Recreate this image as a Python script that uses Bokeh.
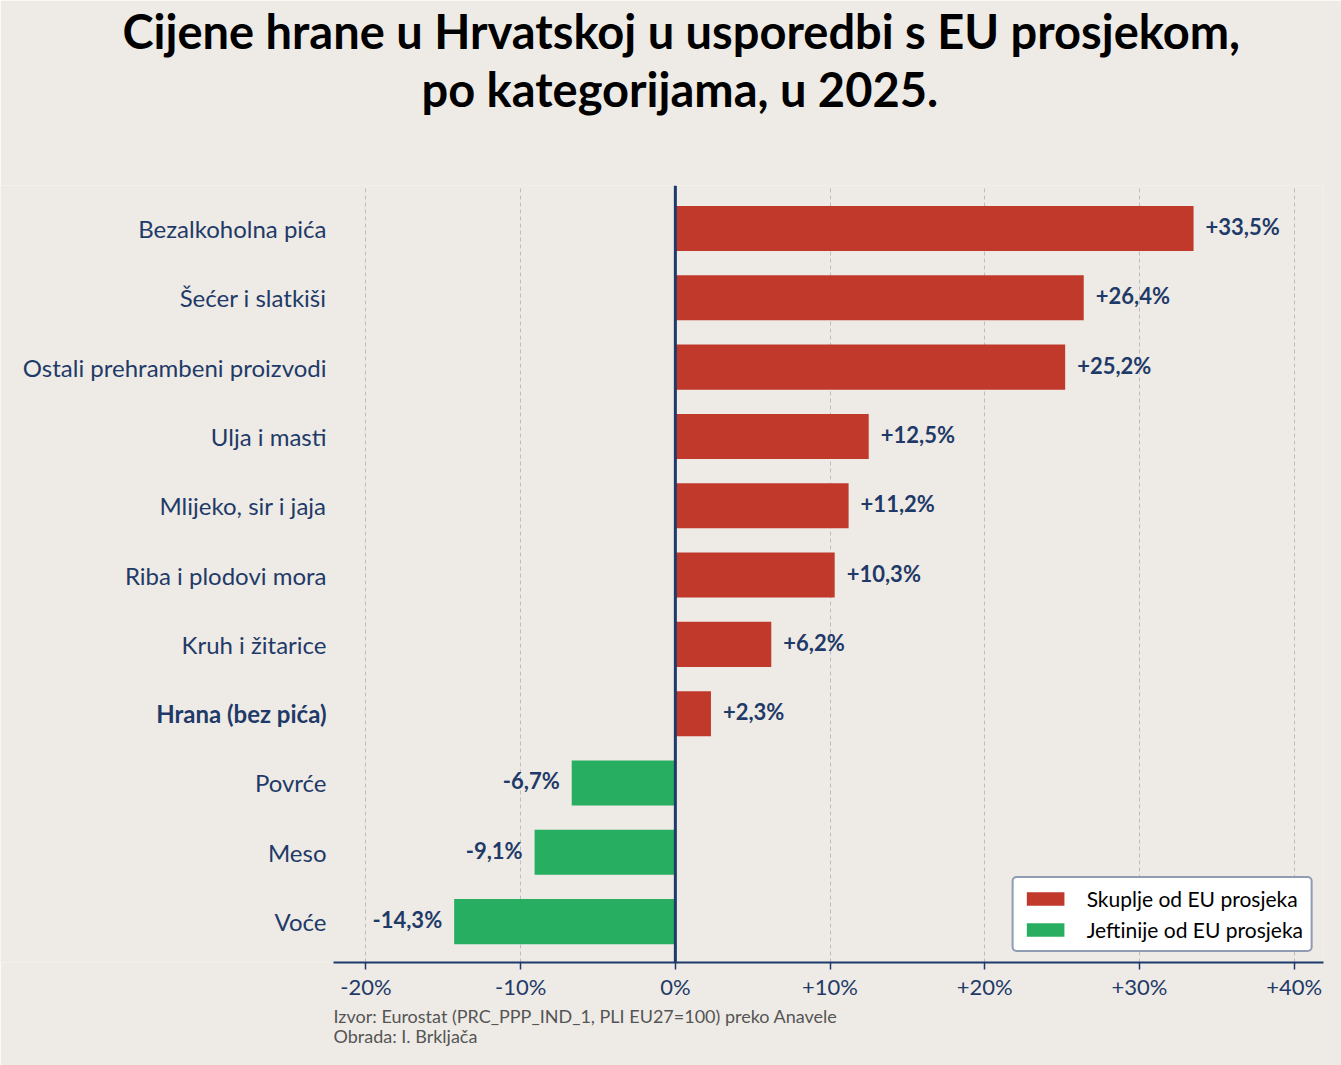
from bokeh.plotting import figure
from bokeh.models import Range1d, FixedTicker, Label, Legend, LegendItem, Span, Title, ColumnDataSource
from bokeh.core.properties import value
from bokeh.embed import file_html
from bokeh.resources import INLINE

categories = ["Voće", "Meso", "Povrće", "Hrana (bez pića)", "Kruh i žitarice",
              "Riba i plodovi mora", "Mlijeko, sir i jaja", "Ulja i masti",
              "Ostali prehrambeni proizvodi", "Šećer i slatkiši", "Bezalkoholna pića"]
values = [-14.3, -9.1, -6.7, 2.3, 6.2, 10.3, 11.2, 12.5, 25.2, 26.4, 33.5]
xticks = [-20, -10, 0, 10, 20, 30, 40]
xtick_labels = ["-20%", "-10%", "0%", "+10%", "+20%", "+30%", "+40%"]
bold_category = "Hrana (bez pića)"
title_lines = ["Cijene hrane u Hrvatskoj u usporedbi s EU prosjekom,", "po kategorijama, u 2025."]
source_lines = ["Izvor: Eurostat (PRC_PPP_IND_1, PLI EU27=100) preko Anavele", "Obrada: I. Brkljača"]
legend_labels = ["Skuplje od EU prosjeka", "Jeftinije od EU prosjeka"]

BG = "#EEEBE6"
NAVY = "#1F3A68"
RED = "#C0392B"
GREEN = "#27AE60"
FONT = "Lato"

W, H = 1341, 1065
AX0, X1 = -22.1, 41.9          # visible axis extent
Y0, Y1 = -0.59, 10.62
AXIS_LEFT_PX, AXIS_W = 333, 990
MT, FH = 185, 777
PXX = AXIS_W / (X1 - AX0)
XL = AX0 - AXIS_LEFT_PX / PXX   # frame extends to the left canvas edge (room for category labels)
FW = AXIS_LEFT_PX + AXIS_W

p = figure(frame_width=FW, frame_height=FH, output_backend="svg", toolbar_location=None,
           x_range=Range1d(XL, X1), y_range=Range1d(Y0, Y1), y_axis_location=None,
           title=title_lines[0],
           min_border_left=0, min_border_right=W - FW, min_border_top=MT,
           min_border_bottom=H - MT - FH,
           background_fill_color=BG, border_fill_color=BG, outline_line_color=None)

p.title.align = "left"
p.title.offset = 122
p.title.text_font = FONT
p.title.text_font_style = "bold"
p.title.text_font_size = "47px"
p.title.text_color = "black"
p.title.standoff = 0

spacer = Title(text=" ", text_font_size="1px", standoff=66)
p.add_layout(spacer, "above")
t2 = Title(text=title_lines[1], align="left", offset=421, text_font=FONT, text_font_style="bold",
           text_font_size="47px", text_color="black", standoff=0)
p.add_layout(t2, "above")

ys = list(range(len(categories)))
rp = p.hbar(y=[y for y, v in zip(ys, values) if v > 0], left=0,
            right=[v for v in values if v > 0], height=0.65, color=RED, line_color=None)
rn = p.hbar(y=[y for y, v in zip(ys, values) if v < 0], left=0,
            right=[v for v in values if v < 0], height=0.65, color=GREEN, line_color=None)

p.add_layout(Span(location=0, dimension="height", line_color=NAVY, line_width=3))

for y, v in zip(ys, values):
    txt = ("+" if v > 0 else "") + f"{v:.1f}".replace(".", ",") + "%"
    p.add_layout(Label(x=v, y=y, text=txt, x_offset=12 if v > 0 else -12, y_offset=2,
                       text_align="left" if v > 0 else "right",
                       text_baseline="middle", text_font=FONT, text_font_style="bold",
                       text_font_size="22px", text_color=NAVY))

# category labels (drawn as text, one of them bold)
norm = ColumnDataSource(dict(x=[AX0] * sum(c != bold_category for c in categories),
                             y=[y for y, c in zip(ys, categories) if c != bold_category],
                             t=[c for c in categories if c != bold_category]))
bold = ColumnDataSource(dict(x=[AX0], y=[y for y, c in zip(ys, categories) if c == bold_category],
                             t=[bold_category]))
p.text(x="x", y="y", text="t", source=norm, x_offset=-7, text_align="right", text_baseline="middle",
       text_font=value(FONT), text_font_size="24px", text_color=NAVY)
p.text(x="x", y="y", text="t", source=bold, x_offset=-7, text_align="right", text_baseline="middle",
       text_font=value(FONT), text_font_style="bold", text_font_size="24px", text_color=NAVY)

p.xaxis.bounds = (AX0, X1)
p.xaxis.ticker = FixedTicker(ticks=xticks)
p.xaxis.major_label_overrides = {t: l for t, l in zip(xticks, xtick_labels)}
p.xaxis.axis_line_color = NAVY
p.xaxis.axis_line_width = 2
p.xaxis.major_tick_line_color = NAVY
p.xaxis.major_tick_line_width = 1.5
p.xaxis.major_tick_out = 7
p.xaxis.major_tick_in = 0
p.xaxis.minor_tick_line_color = None
p.xaxis.major_label_text_font = FONT
p.xaxis.major_label_text_font_size = "22px"
p.xaxis.major_label_text_color = NAVY
p.xaxis.major_label_standoff = 3

p.xgrid.ticker = FixedTicker(ticks=xticks)
p.xgrid.grid_line_color = "#B8BDC6"
p.xgrid.grid_line_dash = "4 3"
p.xgrid.grid_line_width = 1
p.ygrid.grid_line_color = None

p.add_layout(Title(text="\n".join(source_lines), align="left", offset=AXIS_LEFT_PX, text_font=FONT,
                   text_font_style="normal", text_font_size="18px", text_color="#555555",
                   text_line_height=0.92, standoff=2), "below")

legend = Legend(items=[LegendItem(label=legend_labels[0], renderers=[rp]),
                       LegendItem(label=legend_labels[1], renderers=[rn])],
                location="bottom_right")
legend.label_text_font = FONT
legend.label_text_font_size = "21px"
legend.label_text_color = "black"
legend.glyph_width = 47
legend.glyph_height = 17
legend.label_standoff = 18
legend.spacing = 6
legend.padding = 8
legend.margin = 10
legend.border_line_color = NAVY
legend.border_line_width = 2
legend.border_radius = 5
legend.background_fill_color = "white"
legend.background_fill_alpha = 1
p.add_layout(legend)

open("out.html", "w").write(file_html(p, INLINE))
